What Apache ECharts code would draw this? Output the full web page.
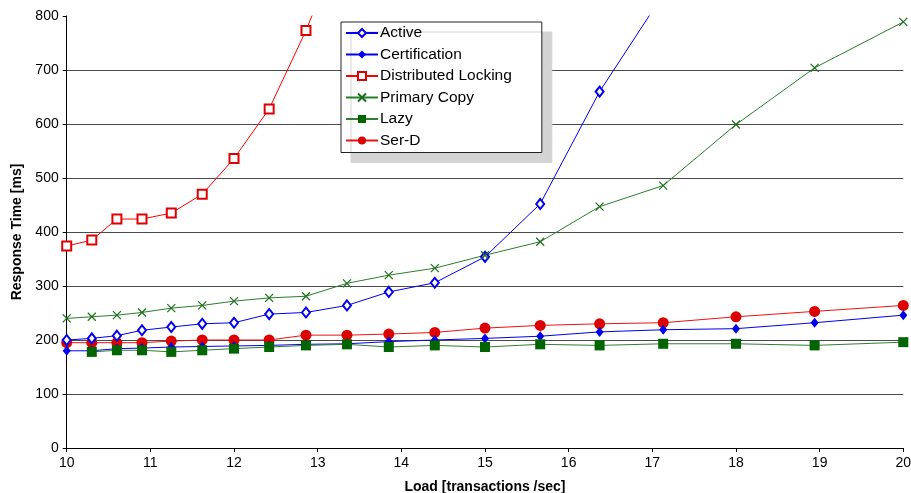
<!DOCTYPE html>
<html>
<head>
<meta charset="utf-8">
<script src="https://cdn.jsdelivr.net/npm/echarts@6/dist/echarts.min.js"></script>
<style>
  html, body { margin: 0; padding: 0; background: #fff; }
  #chart { width: 911px; height: 493px; }
</style>
</head>
<body>
<div id="chart"></div>
<script>
// load values on the x axis (transactions / sec)
var loads = [10, 10.3, 10.6, 10.9, 11.25, 11.62, 12, 12.42, 12.86, 13.35, 13.85, 14.4, 15, 15.66, 16.37, 17.13, 18, 18.94, 20];

// response times in ms, one per load point
var active = [200, 203, 208, 218, 224, 230, 232, 248, 251, 264, 289, 306, 354, 452, 660, 840];
var certification = [180, 180, 184, 185, 187, 188, 189, 190, 192, 193, 197, 200, 203, 207, 215, 219, 221, 232, 246];
var distLocking = [374, 385, 424, 424, 435, 470, 536, 628, 773, 960];
var primaryCopy = [240, 243, 246, 251, 259, 264, 272, 278, 281, 305, 320, 333, 357, 382, 447, 486, 599, 704, 789];
var lazy = [null, 178, 181, 181, 178, 181, 184, 187, 190, 192, 187, 190, 187, 192, 190, 193, 193, 190, 196];
var serD = [195, 195, 195, 195, 198, 200, 200, 200, 209, 209, 211, 214, 222, 227, 230, 232, 243, 253, 264];

var yTicks = [0, 100, 200, 300, 400, 500, 600, 700, 800];

function pairs(vals) {
    var out = [];
    for (var i = 0; i < vals.length; i++) {
        if (vals[i] == null) continue;
        out.push([loads[i], vals[i]]);
    }
    return out;
}

var font = 'Liberation Sans, Arial, Helvetica, sans-serif';
var crossPath = 'path://M0,0L10,10M10,0L0,10';

function line(name, vals, color, symbol, size, itemStyle, z) {
    return {
        name: name,
        type: 'line',
        data: pairs(vals),
        symbol: symbol,
        symbolSize: size,
        showAllSymbol: true,
        lineStyle: { color: color, width: 1 },
        itemStyle: itemStyle,
        z: z,
        animation: false
    };
}

var chart = echarts.init(document.getElementById('chart'));

var option = {
    backgroundColor: '#fff',
    animation: false,
    grid: { left: 66.7, right: 7.7, top: 16, bottom: 45, outerBoundsMode: 'none', containLabel: false },
    legend: {
        orient: 'vertical',
        left: 341,
        top: 22,
        padding: [3, 30, 4, 4],
        itemWidth: 32,
        itemHeight: 10,
        itemGap: 5.5,
        backgroundColor: '#fff',
        borderColor: '#222',
        borderWidth: 1,
        borderRadius: 0,
        shadowColor: '#d4d4d4',
        shadowBlur: 0,
        shadowOffsetX: 10,
        shadowOffsetY: 10,
        textStyle: { fontFamily: font, fontSize: 15.5, color: '#000', padding: [0, 0, 0, -3] },
        data: ['Active', 'Certification', 'Distributed Locking', 'Primary Copy', 'Lazy', 'Ser-D']
    },
    xAxis: {
        type: 'value',
        min: 10,
        max: 20,
        interval: 1,
        name: 'Load [transactions /sec]',
        nameLocation: 'middle',
        nameGap: 32,
        nameTextStyle: { fontFamily: font, fontSize: 14, fontWeight: 'bold', color: '#000' },
        axisLine: { show: true, lineStyle: { color: '#000', width: 1 } },
        axisTick: { show: true, length: 4, lineStyle: { color: '#000' } },
        axisLabel: { fontFamily: font, fontSize: 14, color: '#000', margin: 8 },
        splitLine: { show: false }
    },
    yAxis: {
        type: 'value',
        min: yTicks[0],
        max: yTicks[yTicks.length - 1],
        interval: 100,
        name: 'Response Time [ms]',
        nameLocation: 'middle',
        nameGap: 40,
        nameTextStyle: { fontFamily: font, fontSize: 14, fontWeight: 'bold', color: '#000' },
        axisLine: { show: true, lineStyle: { color: '#000', width: 1 } },
        axisTick: { show: true, length: 4, lineStyle: { color: '#000' } },
        axisLabel: { fontFamily: font, fontSize: 14, color: '#000', margin: 8 },
        splitLine: { show: true, showMaxLine: false, lineStyle: { color: '#4a4a4a', width: 1 } }
    },
    series: [
        line('Active', active, '#0000ee', 'emptyDiamond', [8, 10],
            { color: '#0000ee', borderColor: '#0000ee', borderWidth: 1 }, 4),
        line('Certification', certification, '#0000ee', 'diamond', [8, 10],
            { color: '#0000ee' }, 3),
        line('Distributed Locking', distLocking, '#ff0000', 'emptyRect', 9,
            { color: '#e00000', borderColor: '#e00000', borderWidth: 1 }, 4),
        line('Primary Copy', primaryCopy, '#2a7f2a', crossPath, 8,
            { color: '#1a6e1a', borderColor: '#1a6e1a', borderWidth: 1.2 }, 4),
        line('Lazy', lazy, '#2f7f2f', 'rect', 10,
            { color: '#006400' }, 5),
        line('Ser-D', serD, '#ee1111', 'circle', 11,
            { color: '#dd0000' }, 2)
    ]
};

chart.setOption(option);
</script>
</body>
</html>
